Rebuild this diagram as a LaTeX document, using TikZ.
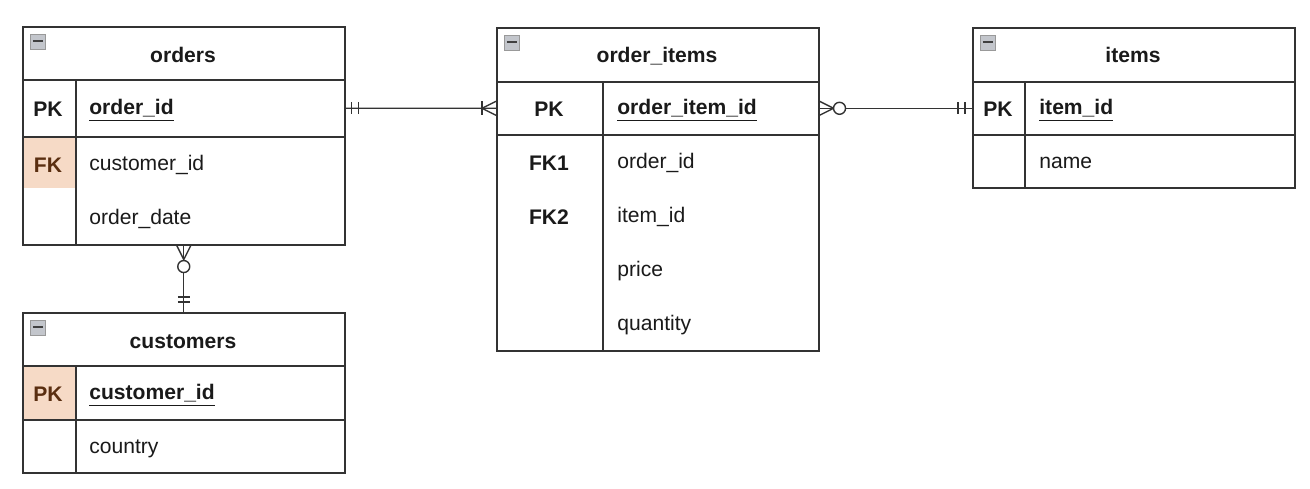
\documentclass[tikz,border=0pt]{standalone}
\usepackage{fontspec}
\setmainfont{Liberation Sans}
\usetikzlibrary{positioning,calc}
\definecolor{ink}{HTML}{1A1A1A}
\definecolor{frame}{HTML}{333333}
\definecolor{keypale}{HTML}{F6DAC6}
\definecolor{keyink}{HTML}{5A2E10}
\definecolor{iconfill}{HTML}{C3C6CC}
\tikzset{
  tbl/.style={draw=frame,line width=.9pt,anchor=north west,inner sep=0pt,minimum width=6.44cm},
  rowbox/.style={draw=frame,line width=.9pt,anchor=north west,inner sep=0pt,minimum width=6.44cm,minimum height=1.06cm},
  keycell/.style={fill=keypale,anchor=north west,inner sep=0pt,minimum width=1.08cm},
  title/.style={font=\bfseries\fontsize{12}{14}\selectfont,text=ink,text height=1.1em,text depth=.05em},
  keytext/.style={font=\bfseries\fontsize{12}{14}\selectfont,text=ink,text height=1.15em,text depth=.05em},
  field/.style={font=\fontsize{12}{14}\selectfont,text=ink,anchor=west,inner xsep=0pt,text height=1.1em,text depth=.2em},
  pkfield/.style={field,font=\bfseries\fontsize{12}{14}\selectfont},
  divider/.style={draw=frame,line width=.9pt},
  minusbox/.style={draw=gray!80,fill=iconfill,line width=.5pt,minimum size=.3cm,inner sep=0pt,anchor=north west,
    path picture={\draw[line width=1.2pt,black!75]
      ([xshift=.05cm,yshift=.02cm]path picture bounding box.west) -- ([xshift=-.05cm,yshift=.02cm]path picture bounding box.east);}},
  rel/.style={draw=frame,line width=.8pt},
  ring/.style={circle,draw=frame,line width=.8pt,fill=white,minimum size=.24cm,inner sep=0pt},
}

\begin{document}
\begin{tikzpicture}[x=.02cm,y=-.02cm]
  \useasboundingbox[fill=white] (0,0) rectangle (1310,488);

  % key highlights
  \node[keycell,minimum height=1.04cm] (ordersFKcell) at (22,136) {};
  \node[keycell,minimum height=1.08cm] (custPKcell) at (22,365) {};

  % orders
  \node[tbl,minimum height=4.36cm] (orders) at (22,26) {};
  \node[rowbox,minimum height=1.14cm] (ordersPK) at (22,79) {};
  \draw[divider] ([xshift=1.08cm]ordersPK.north west) -- ([xshift=1.08cm]orders.south west);
  \node[minusbox] (ordersMin) at ($(orders.north west)+(8,8)$) {};
  \node[title] (ordersT) at (183,53) {orders};
  \node[keytext] (ordersK1) at (48,107) {PK};
  \node[pkfield] (ordersF1) at (89,107) {\underline{order\_id}};
  \node[keytext,text=keyink] (ordersK2) at (48,163) {FK};
  \node[field] (ordersF2) at (89,163) {customer\_id};
  \node[field] (ordersF3) at (89,217) {order\_date};

  % customers
  \node[tbl,minimum height=3.2cm] (cust) at (22,312) {};
  \node[rowbox,minimum height=1.08cm] (custPK) at (22,365) {};
  \draw[divider] ([xshift=1.08cm]custPK.north west) -- ([xshift=1.08cm]cust.south west);
  \node[minusbox] (custMin) at ($(cust.north west)+(8,8)$) {};
  \node[title] (custT) at (183,339) {customers};
  \node[keytext,text=keyink] (custK1) at (48,392) {PK};
  \node[pkfield] (custF1) at (89,392) {\underline{customer\_id}};
  \node[field] (custF2) at (89,446) {country};

  % order_items
  \node[tbl,minimum height=6.46cm] (oi) at (496,27) {};
  \node[rowbox] (oiPK) at (496,81) {};
  \draw[divider] ([xshift=2.14cm]oiPK.north west) -- ([xshift=2.14cm]oi.south west);
  \node[minusbox] (oiMin) at ($(oi.north west)+(8,8)$) {};
  \node[title] (oiT) at (657,53) {order\_items};
  \node[keytext] (oiK1) at (549,107) {PK};
  \node[pkfield] (oiF1) at (617,107) {\underline{order\_item\_id}};
  \node[keytext] (oiK2) at (549,161) {FK1};
  \node[keytext] (oiK3) at (549,215) {FK2};
  \node[field] (oiF2) at (617,161) {order\_id};
  \node[field] (oiF3) at (617,215) {item\_id};
  \node[field] (oiF4) at (617,269) {price};
  \node[field] (oiF5) at (617,323) {quantity};

  % items
  \node[tbl,minimum height=3.2cm] (items) at (972,27) {};
  \node[rowbox] (itemsPK) at (972,81) {};
  \draw[divider] ([xshift=1.06cm]itemsPK.north west) -- ([xshift=1.06cm]items.south west);
  \node[minusbox] (itemsMin) at ($(items.north west)+(8,8)$) {};
  \node[title] (itemsT) at (1133,53) {items};
  \node[keytext] (itemsK1) at (998,107) {PK};
  \node[pkfield] (itemsF1) at (1039,107) {\underline{item\_id}};
  \node[field] (itemsF2) at (1039,161) {name};

  % orders -- order_items
  \draw[rel] (ordersPK.east) -- (oiPK.west);
  \draw[rel] ($(ordersPK.east)+(6,-6)$) -- +(0,12);
  \draw[rel] ($(ordersPK.east)+(13,-6)$) -- +(0,12);
  \draw[rel] ($(oiPK.west)+(0,-7)$) -- ($(oiPK.west)+(-14,0)$) -- ($(oiPK.west)+(0,7)$);
  \draw[rel] ($(oiPK.west)+(-14,-7)$) -- +(0,14);

  % order_items -- items
  \draw[rel] (oiPK.east) -- (itemsPK.west);
  \draw[rel] ($(oiPK.east)+(0,-7)$) -- ($(oiPK.east)+(14,0)$) -- ($(oiPK.east)+(0,7)$);
  \node[ring] (oiRing) at ($(oiPK.east)+(20,0)$) {};
  \draw[rel] ($(itemsPK.west)+(-14,-6)$) -- +(0,12);
  \draw[rel] ($(itemsPK.west)+(-7,-6)$) -- +(0,12);

  % orders -- customers
  \draw[rel] (orders.south) -- (cust.north);
  \draw[rel] ($(orders.south)+(-7,0)$) -- ($(orders.south)+(0,14)$) -- ($(orders.south)+(7,0)$);
  \node[ring] (ordersRing) at ($(orders.south)+(0,21)$) {};
  \draw[rel] ($(cust.north)+(-6,-15)$) -- +(12,0);
  \draw[rel] ($(cust.north)+(-6,-10)$) -- +(12,0);
\end{tikzpicture}
\end{document}
